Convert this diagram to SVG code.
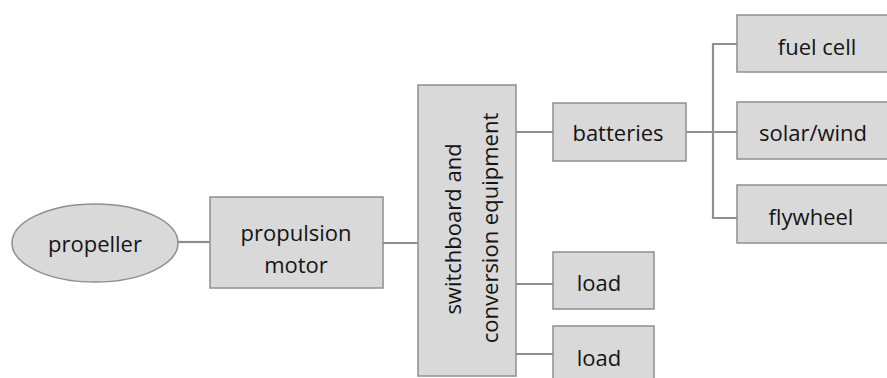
<svg xmlns="http://www.w3.org/2000/svg" width="887" height="378" viewBox="0 0 887 378">
<style>
.box{fill:#d9d9d9;stroke:#8f8f8f;stroke-width:1.5}
.t{font-family:"Open Sans","Liberation Sans",sans-serif;font-size:22px;fill:#141414;text-anchor:middle;dominant-baseline:central}
.c{fill:none;stroke:#8f8f8f;stroke-width:2.2}
</style>
<rect width="887" height="378" fill="#ffffff"/>
<g id="connectors">
<path class="c" d="M178 242H210"/>
<path class="c" d="M383 243H418"/>
<path class="c" d="M516 132H553"/>
<path class="c" d="M516 284H553"/>
<path class="c" d="M516 354H553"/>
<path class="c" d="M686 132H737"/>
<path class="c" d="M737 44H713V218H737"/>
</g>
<g id="propeller"><ellipse class="box" cx="95" cy="243" rx="83" ry="39"/><text class="t" x="95" y="243">propeller</text></g>
<g id="motor"><rect class="box" x="210" y="197" width="173" height="91"/><text class="t" x="296" y="232">propulsion</text><text class="t" x="296" y="264">motor</text></g>
<g id="switchboard"><rect class="box" x="418" y="85" width="98" height="291"/><text class="t" transform="translate(452 229) rotate(-90)">switchboard and</text><text class="t" transform="translate(489 228) rotate(-90)">conversion equipment</text></g>
<g id="batteries"><rect class="box" x="553" y="103" width="133" height="58"/><text class="t" x="618" y="132">batteries</text></g>
<g id="load1"><rect class="box" x="553" y="252" width="101" height="57"/><text class="t" x="599" y="282">load</text></g>
<g id="load2"><rect class="box" x="553" y="326" width="101" height="60"/><text class="t" x="599" y="357">load</text></g>
<g id="fuelcell"><rect class="box" x="737" y="15" width="160" height="57"/><text class="t" x="817" y="46">fuel cell</text></g>
<g id="solarwind"><rect class="box" x="737" y="102" width="160" height="57"/><text class="t" x="813" y="132">solar/wind</text></g>
<g id="flywheel"><rect class="box" x="737" y="185" width="160" height="58"/><text class="t" x="811" y="216">flywheel</text></g>
</svg>
